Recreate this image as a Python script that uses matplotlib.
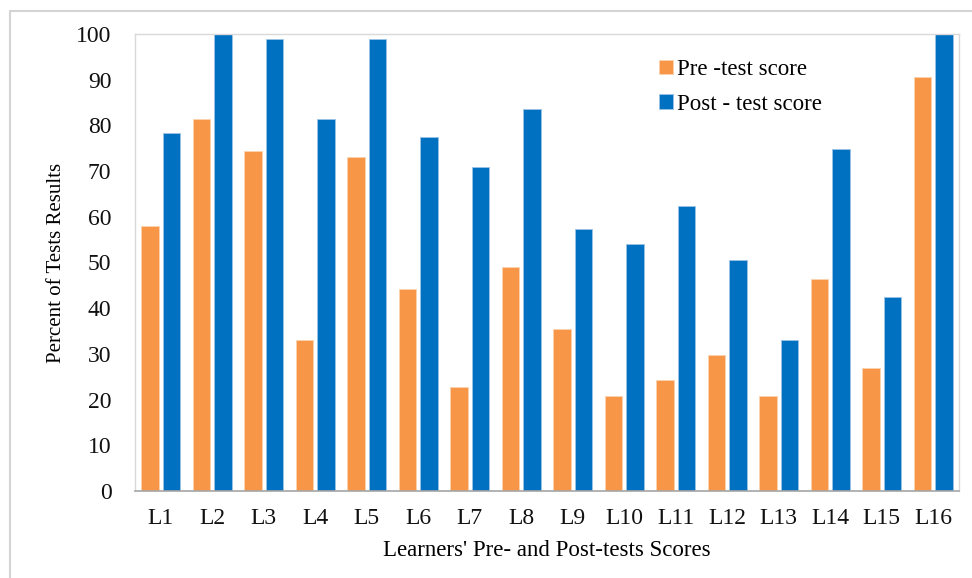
import numpy as np
import matplotlib
matplotlib.use('Agg')
from matplotlib import pyplot as plt
from matplotlib.patches import Rectangle

learners = ['L1', 'L2', 'L3', 'L4', 'L5', 'L6', 'L7', 'L8',
            'L9', 'L10', 'L11', 'L12', 'L13', 'L14', 'L15', 'L16']
pre_test = [58.0, 81.5, 74.4, 33.0, 73.1, 44.3, 22.8, 49.0,
            35.4, 20.7, 24.3, 29.8, 20.7, 46.3, 27.0, 90.5]
post_test = [78.3, 100.0, 99.0, 81.5, 99.0, 77.5, 71.0, 83.5,
             57.3, 54.0, 62.4, 50.5, 33.0, 74.8, 42.4, 100.0]
yticks = [0, 10, 20, 30, 40, 50, 60, 70, 80, 90, 100]

plt.rcParams['font.family'] = ['Liberation Serif', 'DejaVu Serif']

W, H = 972, 578
fig = plt.figure(figsize=(W / 100, H / 100), dpi=100)

# light frame around the chart area (cropped on right/bottom)
fig.patches.append(Rectangle((10 / W, -0.05), 1.1, 1 - 11 / H + 0.05,
                             transform=fig.transFigure, fill=False,
                             edgecolor='#d4d4d4', lw=1.5))

ax = fig.add_axes([135 / W, 1 - 491 / H, (959 - 135) / W, (491 - 34) / H])

x = np.arange(len(learners))
w = 0.34
off = 0.21
ax.bar(x - off, pre_test, w, color='#F79646', edgecolor='#fbd3b0', lw=0.6,
       label='Pre -test score')
ax.bar(x + off, post_test, w, color='#0070C0', edgecolor='#9cc3e6', lw=0.6,
       label='Post - test score')

ax.set_xlim(-0.5, len(learners) - 0.5)
ax.set_ylim(0, 100)
ax.set_yticks(yticks)
ax.set_xticks(x)
ax.set_xticklabels(learners)
ax.tick_params(axis='both', length=0, labelsize=17, colors='#111111')
ax.tick_params(axis='y', pad=17)
ax.tick_params(axis='x', pad=12)

for s in ['top', 'right', 'left']:
    ax.spines[s].set_color('#d9d9d9')
    ax.spines[s].set_linewidth(1.0)
ax.spines['bottom'].set_color('#a6a6a6')
ax.spines['bottom'].set_linewidth(1.2)

ax.set_ylabel('Percent of Tests Results', fontsize=15, labelpad=7)
ax.set_xlabel("Learners' Pre- and Post-tests Scores", fontsize=16.5, labelpad=8)

fig.legend(loc='upper left', bbox_to_anchor=(659 / W, 1 - 59 / H),
           frameon=False, fontsize=16.5, borderpad=0, borderaxespad=0,
           handlelength=0.6, handleheight=0.6, handletextpad=0.2,
           labelspacing=0.6)

fig.savefig('out.png', dpi=100)
